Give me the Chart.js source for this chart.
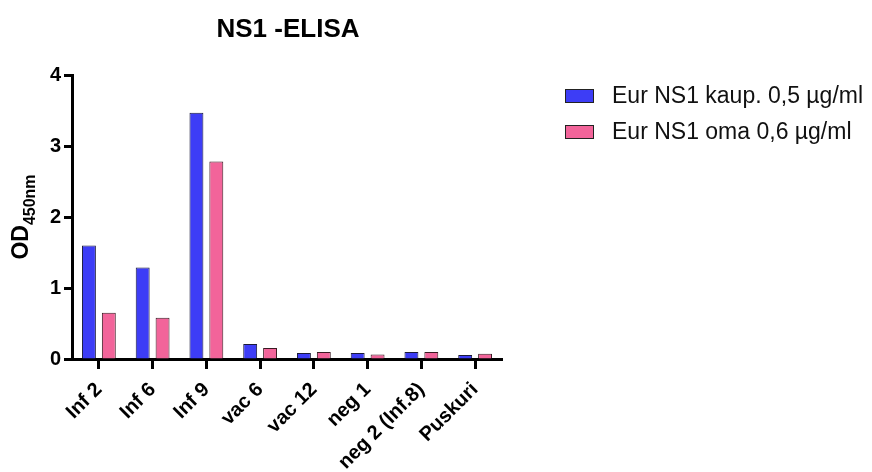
<!DOCTYPE html>
<html>
<head>
<meta charset="utf-8">
<script src="https://cdn.jsdelivr.net/npm/chart.js@4/dist/chart.umd.min.js"></script>
<style>
  html, body { margin: 0; padding: 0; background: #fff; }
  #wrap { width: 872px; height: 472px; }
</style>
</head>
<body>
<div id="wrap"><canvas id="c" width="872" height="472"></canvas></div>
<script>
// Samples on the x axis
const categories = ['Inf 2', 'Inf 6', 'Inf 9', 'vac 6', 'vac 12', 'neg 1', 'neg 2 (Inf.8)', 'Puskuri'];
// OD450 readings per coating antibody
const kaupValues = [1.60, 1.29, 3.47, 0.21, 0.085, 0.085, 0.10, 0.056];
const omaValues  = [0.65, 0.58, 2.78, 0.155, 0.10, 0.065, 0.10, 0.075];
const seriesNames = ['Eur NS1 kaup. 0,5 µg/ml', 'Eur NS1 oma 0,6 µg/ml'];
const yTicks = [0, 1, 2, 3, 4];
const chartTitle = 'NS1 -ELISA';

const FONT = '"Liberation Sans", Arial, sans-serif';
const BLUE = '#3d3df6';
const PINK = '#f2649a';

// Title centred over the plot and legend block
const titlePlugin = {
  id: 'topTitle',
  afterDraw(chart) {
    const { ctx } = chart;
    ctx.save();
    ctx.font = 'bold 26px ' + FONT;
    ctx.fillStyle = '#000';
    ctx.textAlign = 'center';
    ctx.textBaseline = 'middle';
    ctx.fillText(chartTitle, 288, 30);
    ctx.restore();
  }
};

// Rotated y-axis title with a subscript
const yTitlePlugin = {
  id: 'yTitle',
  afterDraw(chart) {
    const { ctx, chartArea } = chart;
    const main = 'OD', sub = '450nm';
    ctx.save();
    ctx.font = 'bold 23px ' + FONT;
    const wMain = ctx.measureText(main).width;
    ctx.font = 'bold 16px ' + FONT;
    const wSub = ctx.measureText(sub).width;
    const total = wMain + wSub;
    const cy = (chartArea.top + chartArea.bottom) / 2;
    ctx.translate(28, cy);
    ctx.rotate(-Math.PI / 2);
    ctx.fillStyle = '#000';
    ctx.textBaseline = 'alphabetic';
    ctx.textAlign = 'left';
    ctx.font = 'bold 23px ' + FONT;
    ctx.fillText(main, -total / 2, 0);
    ctx.font = 'bold 16px ' + FONT;
    ctx.fillText(sub, -total / 2 + wMain, 7);
    ctx.restore();
  }
};

// Legend drawn to the right of the plot
const sideLegendPlugin = {
  id: 'sideLegend',
  afterDraw(chart) {
    const { ctx } = chart;
    const rows = [96, 132];
    ctx.save();
    chart.data.datasets.forEach((ds, i) => {
      const y = rows[i];
      ctx.fillStyle = ds.backgroundColor;
      ctx.fillRect(565, y - 7, 29, 14);
      ctx.strokeStyle = '#222';
      ctx.lineWidth = 1;
      ctx.strokeRect(565.5, y - 6.5, 28, 13);
      ctx.fillStyle = '#111';
      ctx.font = '23px ' + FONT;
      ctx.textBaseline = 'middle';
      ctx.textAlign = 'left';
      ctx.fillText(ds.label, 612, y + 1);
    });
    ctx.restore();
  }
};

new Chart(document.getElementById('c'), {
  type: 'bar',
  data: {
    labels: categories,
    datasets: [
      { label: seriesNames[0], data: kaupValues, backgroundColor: BLUE, borderColor: '#1a1a3a', borderWidth: 1,
        barPercentage: 0.7, categoryPercentage: 0.74 },
      { label: seriesNames[1], data: omaValues, backgroundColor: PINK, borderColor: '#3a1a22', borderWidth: 1,
        barPercentage: 0.7, categoryPercentage: 0.74 }
    ]
  },
  options: {
    responsive: false,
    animation: false,
    devicePixelRatio: 1,
    layout: { padding: { top: 75, right: 370, bottom: 0, left: 0 } },
    plugins: {
      legend: { display: false },
      tooltip: { enabled: false },
      title: { display: false }
    },
    scales: {
      x: {
        afterFit(scale) { scale.height = 113; },
        border: { display: true, color: '#000', width: 3 },
        grid: { display: true, drawOnChartArea: false, drawTicks: true, offset: false,
                tickLength: 10, tickWidth: 3, tickColor: '#000' },
        ticks: { color: '#000', font: { family: FONT, size: 20, weight: 'bold' },
                 maxRotation: 45, minRotation: 45, padding: 9, autoSkip: false }
      },
      y: {
        min: 0, max: 4,
        afterFit(scale) { scale.width = 72; },
        afterBuildTicks(scale) { scale.ticks = yTicks.map(v => ({ value: v })); },
        border: { display: true, color: '#000', width: 3 },
        grid: { display: true, drawOnChartArea: false, drawTicks: true,
                tickLength: 8, tickWidth: 3, tickColor: '#000' },
        ticks: { color: '#000', font: { family: FONT, size: 20, weight: 'bold' }, padding: 3 }
      }
    }
  },
  plugins: [titlePlugin, yTitlePlugin, sideLegendPlugin]
});
</script>
</body>
</html>
